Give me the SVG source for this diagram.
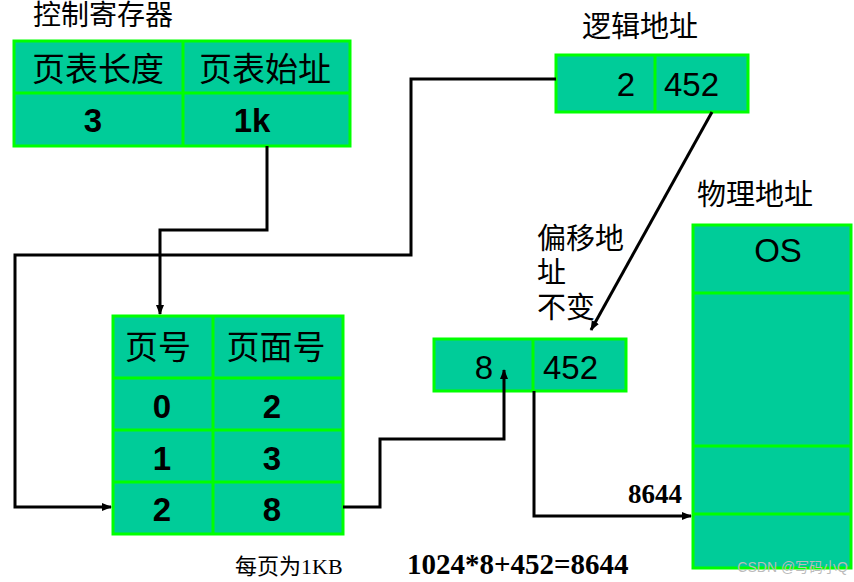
<svg xmlns="http://www.w3.org/2000/svg" width="854" height="582" viewBox="0 0 854 582">
<style>
.c{fill:#00cc99;stroke:#00ff00;stroke-width:3}
.l{stroke:#00ff00;stroke-width:3}
.t{font-family:"Liberation Sans","Noto Sans CJK SC",sans-serif;font-size:33px;fill:#000}
.b{font-weight:bold;text-anchor:middle}
.s{font-family:"Liberation Serif","Noto Sans CJK SC",serif;fill:#000}
.w{fill:none;stroke:#000;stroke-width:3}
</style>
<defs><marker id="a" markerWidth="10" markerHeight="10" refX="9" refY="5" orient="auto" markerUnits="userSpaceOnUse"><path d="M0,1 L10,5 L0,9 Z" fill="#000"/></marker></defs>
<rect width="854" height="582" fill="#fff"/>
<g id="ctrl">
<text x="33" y="25" class="t" style="font-size:28px">控制寄存器</text>
<rect x="14" y="41" width="336" height="105" class="c"/>
<line x1="14" y1="93" x2="350" y2="93" class="l"/><line x1="183" y1="41" x2="183" y2="146" class="l"/>
<text x="98" y="81" class="t" text-anchor="middle">页表长度</text>
<text x="265" y="81" class="t" text-anchor="middle">页表始址</text>
<text x="93" y="132" class="t b">3</text>
<text x="252" y="132" class="t b">1k</text>
</g>
<g id="logic">
<text x="582" y="37" class="t" style="font-size:29px">逻辑地址</text>
<rect x="556" y="55" width="192" height="57" class="c"/>
<line x1="655" y1="55" x2="655" y2="112" class="l"/>
<text x="635" y="96" class="t" text-anchor="end">2</text>
<text x="664" y="96" class="t">452</text>
</g>
<g id="ptable">
<rect x="113" y="316" width="230" height="218" class="c"/>
<line x1="213" y1="316" x2="213" y2="534" class="l"/>
<line x1="113" y1="378" x2="343" y2="378" class="l"/>
<line x1="113" y1="430" x2="343" y2="430" class="l"/>
<line x1="113" y1="482" x2="343" y2="482" class="l"/>
<text x="158" y="359" class="t" text-anchor="middle">页号</text>
<text x="276" y="359" class="t" text-anchor="middle">页面号</text>
<text x="162" y="418" class="t b">0</text><text x="272" y="418" class="t b">2</text>
<text x="162" y="470" class="t b">1</text><text x="272" y="470" class="t b">3</text>
<text x="162" y="521" class="t b">2</text><text x="272" y="521" class="t b">8</text>
</g>
<g id="phys">
<rect x="434" y="339" width="192" height="52" class="c"/>
<line x1="533" y1="339" x2="533" y2="391" class="l"/>
<text x="493" y="379" class="t" text-anchor="end">8</text>
<text x="543" y="379" class="t">452</text>
</g>
<g id="offset" class="t" style="font-size:29px">
<text x="537" y="249">偏移地</text><text x="537" y="283">址</text><text x="537" y="318">不变</text>
</g>
<g id="mem">
<text x="697" y="205" class="t" style="font-size:29px">物理地址</text>
<rect x="693" y="225" width="158" height="343" class="c"/>
<line x1="693" y1="293" x2="851" y2="293" class="l"/>
<line x1="693" y1="446" x2="851" y2="446" class="l"/>
<line x1="693" y1="514" x2="851" y2="514" class="l"/>
<text x="778" y="262" class="t" text-anchor="middle">OS</text>
</g>
<g id="connectors">
<polyline points="267,146 267,230 160,230 160,314" class="w" marker-end="url(#a)"/>
<polyline points="556,79 411,79 411,255 15,255 15,507 111,507" class="w" marker-end="url(#a)"/>
<line x1="712" y1="112" x2="591" y2="330" class="w" marker-end="url(#a)"/>
<polyline points="343,507 380,507 380,439 504,439 504,370" class="w" marker-end="url(#a)"/>
<polyline points="534,391 534,516 691,516" class="w" marker-end="url(#a)"/>
</g>
<text x="628" y="503" class="s" style="font-size:27px;font-weight:bold">8644</text>
<text x="235" y="574" class="s" style="font-size:22px">每页为1KB</text>
<text x="407" y="574" class="s" style="font-size:29px;font-weight:bold">1024*8+452=8644</text>
<text x="848" y="572" style="font-family:'Liberation Sans','Noto Sans CJK SC',sans-serif;font-size:14px;fill:#bbb" text-anchor="end">CSDN @写码小Q</text>
</svg>
